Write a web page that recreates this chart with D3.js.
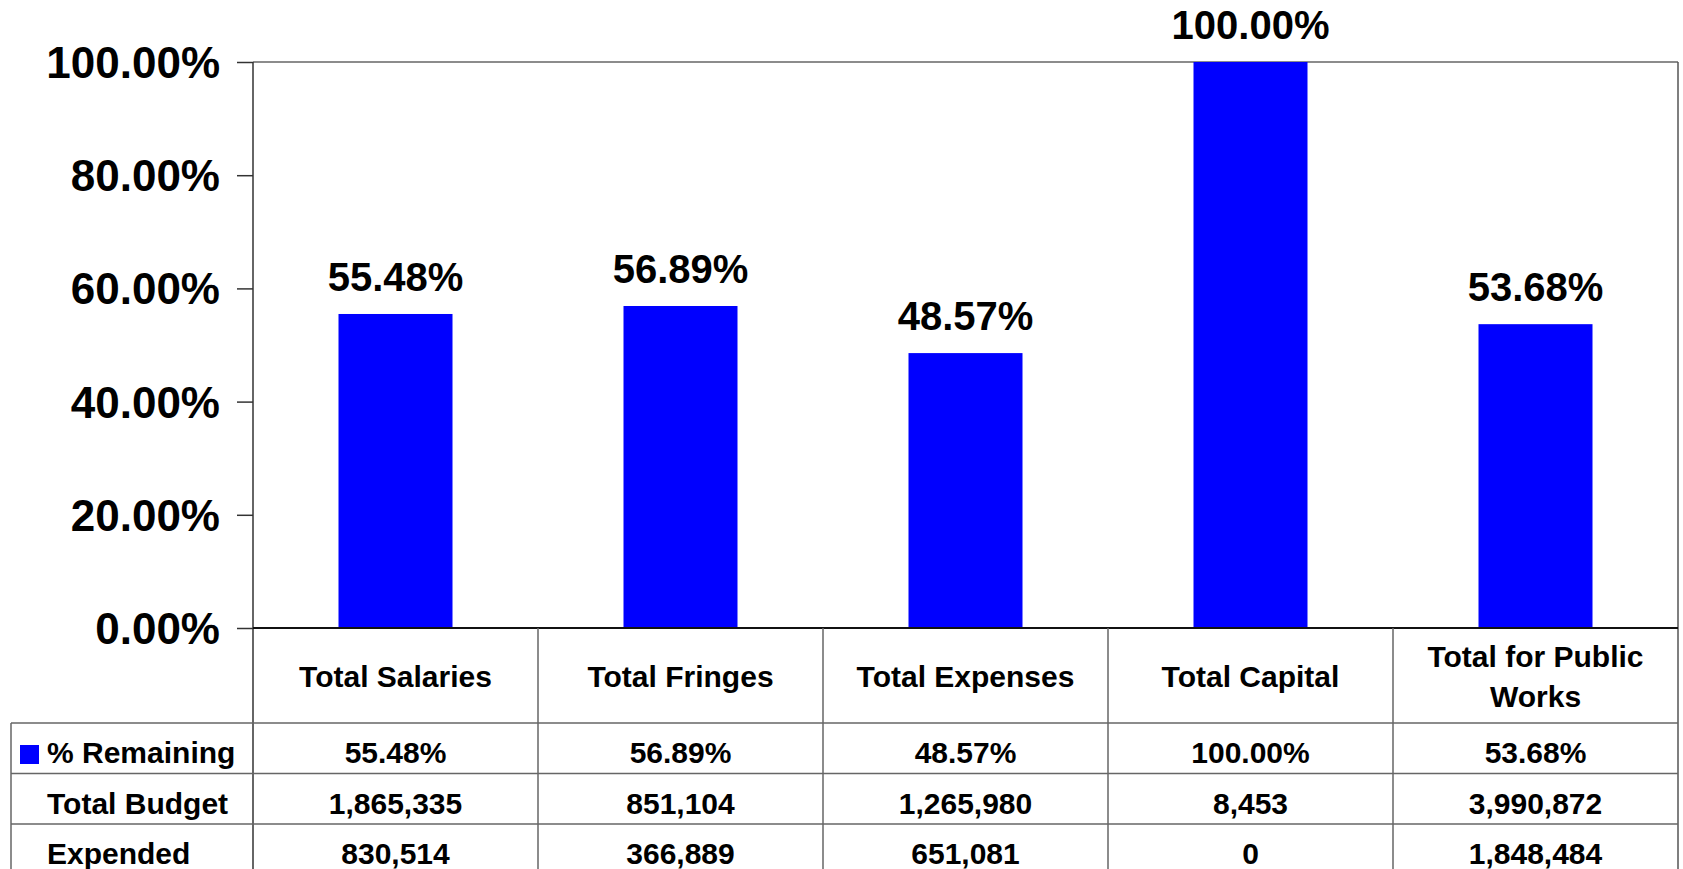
<!DOCTYPE html>
<html>
<head>
<meta charset="utf-8">
<script src="https://cdn.jsdelivr.net/npm/d3@7"></script>
<style>
  html, body { margin: 0; padding: 0; background: #fff; }
  svg { display: block; }
  text { font-family: "Liberation Sans", Arial, sans-serif; font-weight: bold; fill: #000; }
</style>
</head>
<body>
<svg id="chart" width="1683" height="869"></svg>
<script>
// ---- data ----
const categories = ["Total Salaries", "Total Fringes", "Total Expenses", "Total Capital", "Total for Public Works"];
const pctRemaining = [55.48, 56.89, 48.57, 100.00, 53.68];
const totalBudget = [1865335, 851104, 1265980, 8453, 3990872];
const expended = [830514, 366889, 651081, 0, 1848484];
const yTicks = [0, 20, 40, 60, 80, 100];
const seriesName = "% Remaining";
const rowLabels = ["% Remaining", "Total Budget", "Expended"];

// ---- layout ----
const W = 1683, H = 869;
const plotLeft = 253, plotRight = 1678, plotTop = 62, plotBottom = 628;
const headerBottom = 723, rowH = 50.5;
const tableLeft = 11;
const barColor = "#0000FF";

const svg = d3.select("#chart");

const x = d3.scaleBand().domain(categories).range([plotLeft, plotRight]).paddingInner(0).paddingOuter(0);
const y = d3.scaleLinear().domain([0, 100]).range([plotBottom, plotTop]);
const barW = x.bandwidth() * 0.4;

const fmtPct = v => v.toFixed(2) + "%";
const fmtNum = d3.format(",");

// plot frame: top and right borders
svg.append("line").attr("x1", plotLeft).attr("x2", plotRight).attr("y1", y(100)).attr("y2", y(100))
  .attr("stroke", "#666").attr("stroke-width", 1.5);
svg.append("line").attr("x1", plotRight).attr("x2", plotRight).attr("y1", y(100)).attr("y2", H)
  .attr("stroke", "#555").attr("stroke-width", 1.5);

// y axis
const yAxis = d3.axisLeft(y).tickValues(yTicks).tickSize(16).tickPadding(17).tickFormat(d => d.toFixed(2) + "%");
const gy = svg.append("g").attr("transform", `translate(${plotLeft},0)`).call(yAxis);
gy.select(".domain").remove();
gy.selectAll(".tick line").attr("stroke", "#333").attr("stroke-width", 1.5);
gy.selectAll(".tick text").style("font-size", "44px").attr("fill", "#000")
  .attr("dy", null).attr("dominant-baseline", "central");
svg.append("line").attr("x1", plotLeft).attr("x2", plotLeft).attr("y1", y(100)).attr("y2", H)
  .attr("stroke", "#333").attr("stroke-width", 1.5);

// bars
svg.append("g").selectAll("rect").data(categories).join("rect")
  .attr("x", d => x(d) + (x.bandwidth() - barW) / 2)
  .attr("width", barW)
  .attr("y", (d, i) => y(pctRemaining[i]))
  .attr("height", (d, i) => y(0) - y(pctRemaining[i]))
  .attr("fill", barColor);

// data labels
svg.append("g").selectAll("text").data(categories).join("text")
  .attr("x", d => x(d) + x.bandwidth() / 2)
  .attr("y", (d, i) => y(pctRemaining[i]) - 23)
  .attr("text-anchor", "middle")
  .style("font-size", "40px")
  .text((d, i) => fmtPct(pctRemaining[i]));

// zero line
svg.append("line").attr("x1", plotLeft).attr("x2", plotRight).attr("y1", y(0)).attr("y2", y(0))
  .attr("stroke", "#111").attr("stroke-width", 2);

// ---- data table ----
const tableStroke = "#666";
// column dividers
svg.append("g").selectAll("line").data(categories.slice(1)).join("line")
  .attr("x1", d => x(d)).attr("x2", d => x(d)).attr("y1", y(0)).attr("y2", H)
  .attr("stroke", tableStroke).attr("stroke-width", 1.5);
// row lines
const rowTops = [headerBottom, headerBottom + rowH, headerBottom + 2 * rowH];
svg.append("g").selectAll("line").data(rowTops).join("line")
  .attr("x1", tableLeft).attr("x2", plotRight).attr("y1", d => d).attr("y2", d => d)
  .attr("stroke", tableStroke).attr("stroke-width", 1.5);
// table left border
svg.append("line").attr("x1", tableLeft).attr("x2", tableLeft).attr("y1", headerBottom).attr("y2", H)
  .attr("stroke", tableStroke).attr("stroke-width", 1.5);

// header category labels (wrapped)
const hdr = svg.append("g");
const maxW = x.bandwidth() - 24;
categories.forEach(cat => {
  const words = cat.split(" ");
  const lines = [];
  let cur = "";
  const probe = hdr.append("text").style("font-size", "30px");
  words.forEach(w => {
    const trial = cur ? cur + " " + w : w;
    probe.text(trial);
    if (probe.node().getComputedTextLength() > maxW && cur) { lines.push(cur); cur = w; }
    else cur = trial;
  });
  lines.push(cur);
  probe.remove();
  const lh = 40;
  const cy = (plotBottom + headerBottom) / 2;
  lines.forEach((ln, j) => {
    hdr.append("text")
      .attr("x", x(cat) + x.bandwidth() / 2)
      .attr("y", cy + (j - (lines.length - 1) / 2) * lh + 11)
      .attr("text-anchor", "middle")
      .style("font-size", "30px")
      .text(ln);
  });
});

// row labels
const rowData = [pctRemaining.map(fmtPct), totalBudget.map(fmtNum), expended.map(fmtNum)];
rowLabels.forEach((lab, r) => {
  const base = rowTops[r] + 40;
  svg.append("text").attr("x", 47).attr("y", base).style("font-size", "30px").text(lab);
  const g = svg.append("g");
  g.selectAll("text").data(categories).join("text")
    .attr("x", d => x(d) + x.bandwidth() / 2)
    .attr("y", base)
    .attr("text-anchor", "middle")
    .style("font-size", "30px")
    .text((d, i) => rowData[r][i]);
});
// legend key
svg.append("rect").attr("x", 20).attr("y", rowTops[0] + 22).attr("width", 19).attr("height", 19).attr("fill", barColor);
</script>
</body>
</html>
